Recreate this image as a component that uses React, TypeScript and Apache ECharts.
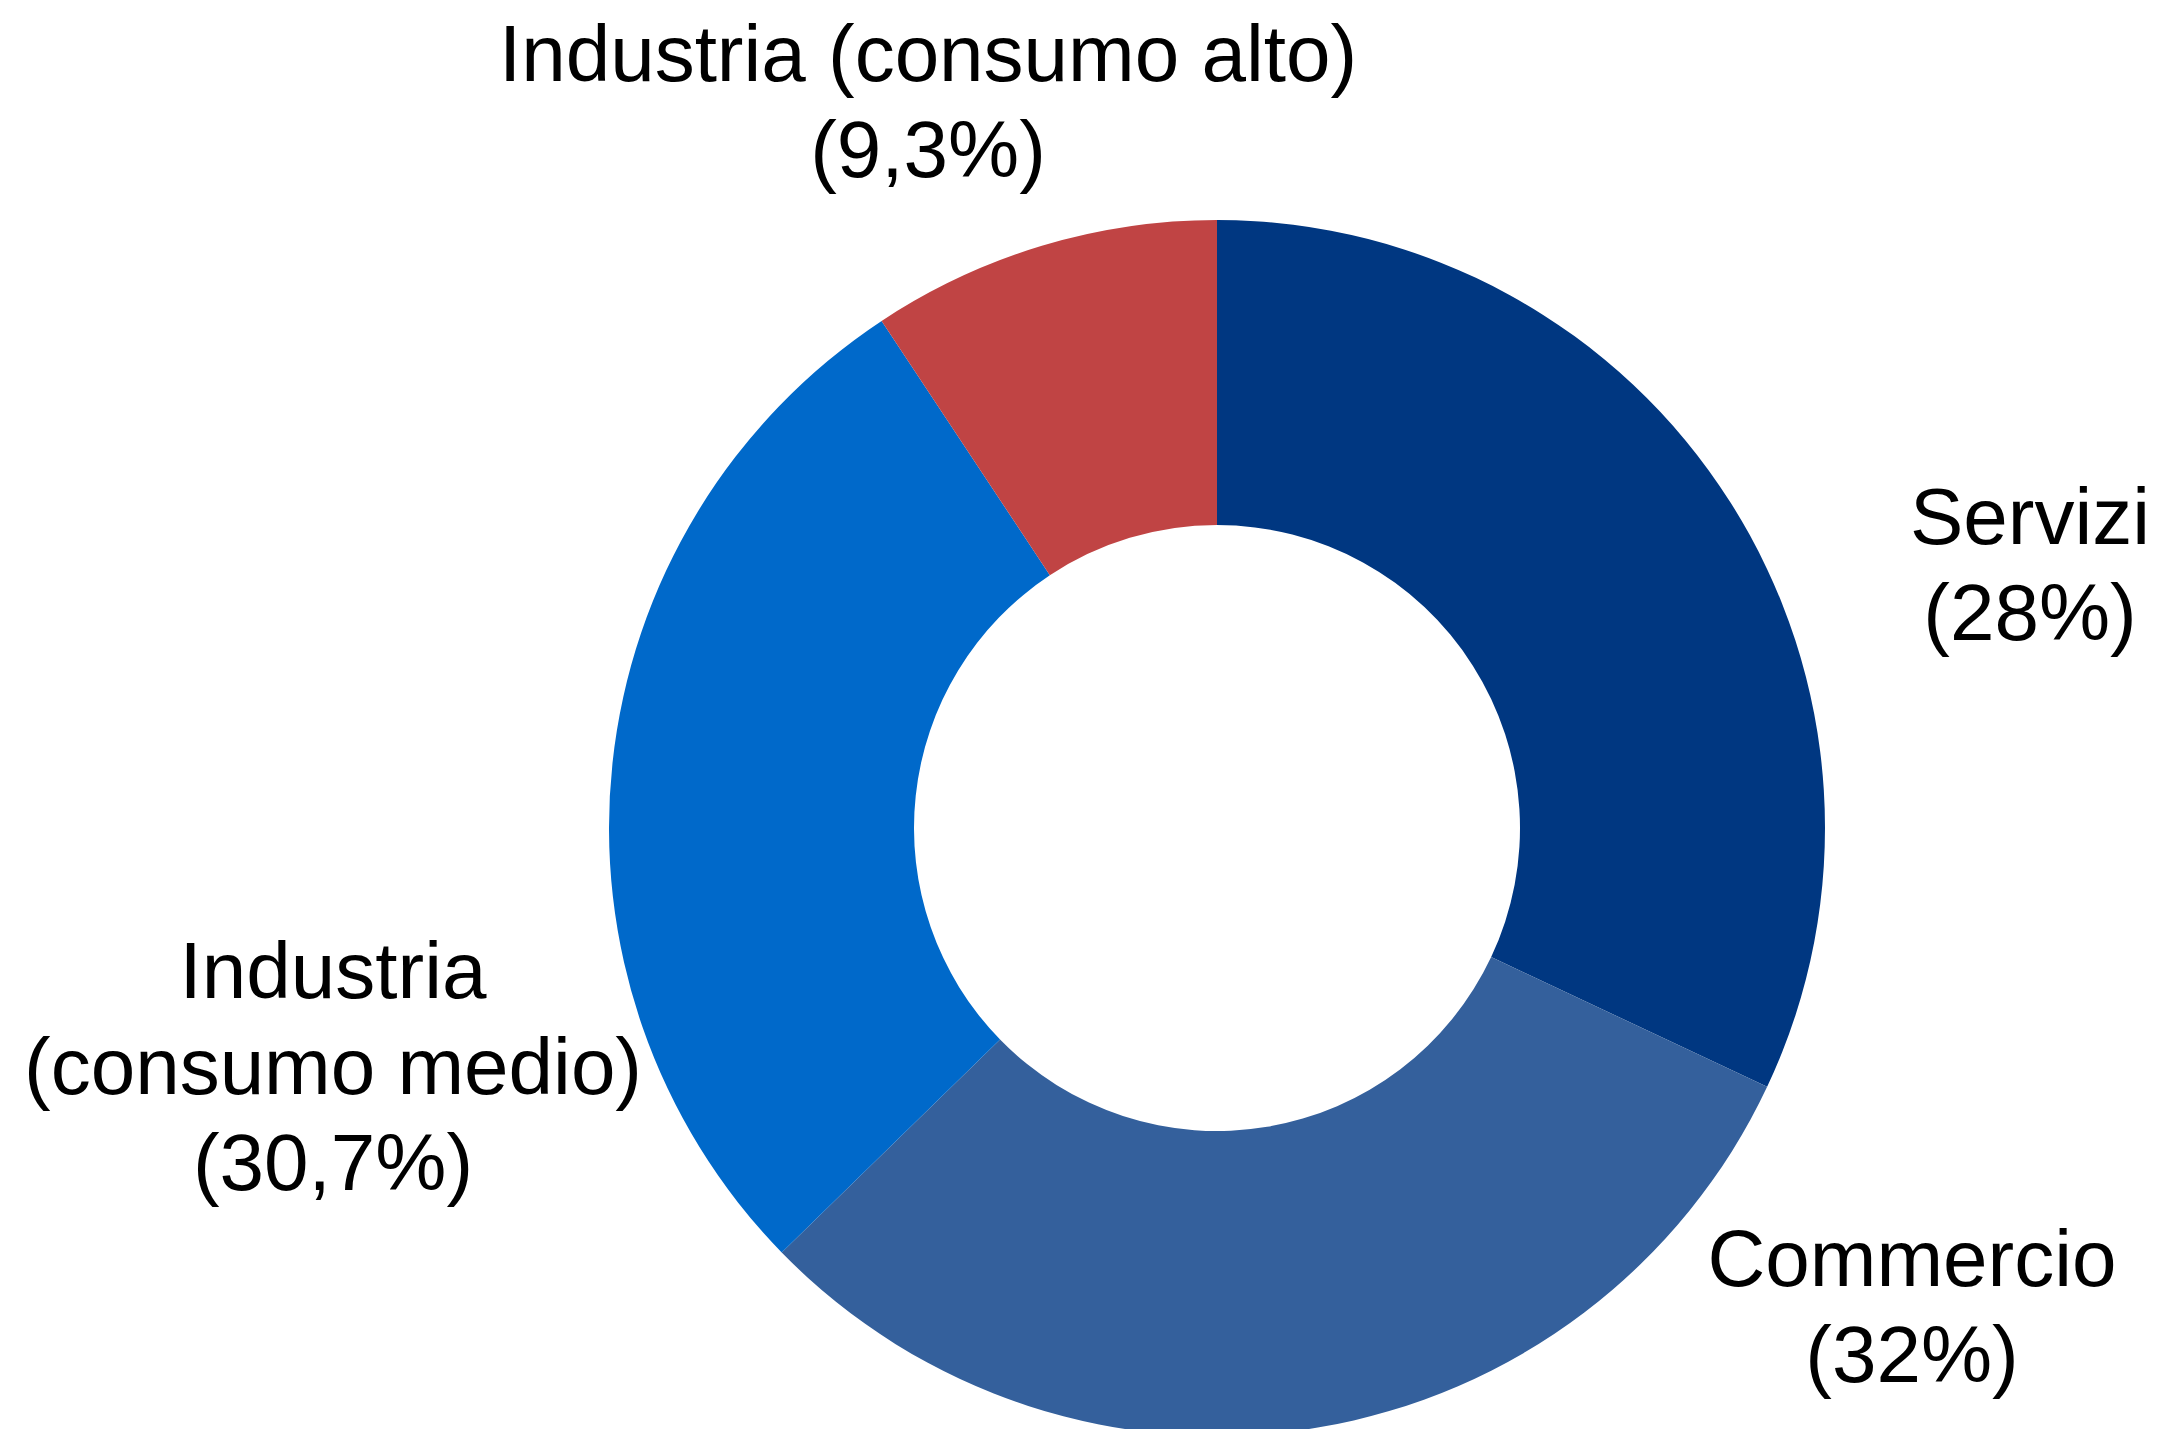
import React, { useEffect, useRef } from "react";
import * as echarts from "echarts";

// Slices, clockwise from 12 o'clock, as drawn
const sliceValues = [32, 30.7, 28, 9.3];
const sliceColors = ["#003781", "#34609C", "#0069CA", "#C04444"];
// Labels placed next to each slice (as printed in the reference)
const labelNames = ["Servizi", "Commercio", "Industria\n(consumo medio)", "Industria (consumo alto)"];
const labelPercents = [28, 32, 30.7, 9.3];
// Label anchor positions (block centres)
const labelX = [2030, 1912, 333, 928];
const labelY = [564, 1306, 1066, 101];

export default function App() {
  const ref = useRef<HTMLDivElement>(null);
  useEffect(() => {
    if (!ref.current) return;
    const chart = echarts.init(ref.current, null, { renderer: "svg" });
    const data = sliceValues.map((v, i) => ({
      value: v,
      name: labelNames[i],
      itemStyle: { color: sliceColors[i] },
    }));
    chart.setOption({
      animation: false,
      backgroundColor: "#ffffff",
      series: [
        {
          type: "pie",
          center: [1217, 828],
          radius: [303, 608],
          startAngle: 90,
          clockwise: true,
          avoidLabelOverlap: false,
          data,
          itemStyle: { borderWidth: 0 },
          label: {
            show: true,
            position: "outside",
            fontFamily: "Liberation Sans, Arial, sans-serif",
            fontSize: 80,
            lineHeight: 96,
            color: "#000000",
            align: "center",
            formatter: (p: any) =>
              labelNames[p.dataIndex] + "\n(" + String(labelPercents[p.dataIndex]).replace(".", ",") + "%)",
          },
          labelLine: { show: false },
          labelLayout: (params: any) => ({
            x: labelX[params.dataIndex],
            y: labelY[params.dataIndex],
            align: "center",
            verticalAlign: "middle",
          }),
          emphasis: { disabled: true },
        },
      ],
    });
    return () => chart.dispose();
  }, []);
  return (
    <div
      ref={ref}
      style={{ position: "absolute", left: 0, top: 0, width: 2176, height: 1429 }}
    />
  );
}
